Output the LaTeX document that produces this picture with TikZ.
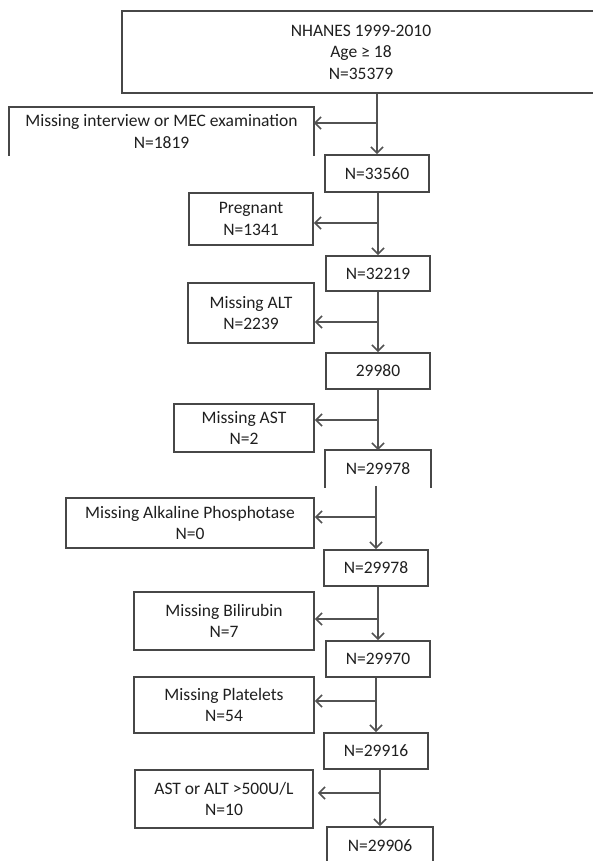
\documentclass[tikz,border=0pt]{standalone}
\usepackage{fontspec}
\setmainfont{Carlito}
\usetikzlibrary{arrows.meta}
\begin{document}
\begin{tikzpicture}[x=1pt,y=-1pt,
  box/.style={draw=black!72, line width=1.8pt, inner sep=0pt, align=center,
    font=\fontsize{17.5}{21.5}\selectfont, text=black!88},
  openbox/.style={box, draw=none},
  conn/.style={draw=black!68, line width=1.6pt},
  arr/.style={conn, -{Straight Barb[length=6pt,width=12pt]}}]
\useasboundingbox (0,0) rectangle (593,861);
\fill[white] (0,0) rectangle (593,861);

% top box (its right side runs past the page edge)
\node[box, minimum width=478pt, minimum height=82pt] (top) at (361,52)
  {NHANES 1999-2010\\Age ≥ 18\\N=35379};

% main column
\node[box, minimum width=104pt, minimum height=37pt] (m1) at (377,173.5) {N=33560};
\node[box, minimum width=104pt, minimum height=35pt] (m2) at (378,273.5) {N=32219};
\node[box, minimum width=104pt, minimum height=36pt] (m3) at (378,371) {29980};
\node[openbox, minimum width=104pt, minimum height=36pt] (m4) at (378,469) {N=29978};
\draw[black!72, line width=1.8pt] (m4.south west) -- (m4.north west) -- (m4.north east) -- (m4.south east);
\node[box, minimum width=104pt, minimum height=36pt] (m5) at (376,568) {N=29978};
\node[box, minimum width=104pt, minimum height=36pt] (m6) at (378,659) {N=29970};
\node[box, minimum width=104pt, minimum height=36pt] (m7) at (376,751) {N=29916};
\node[box, minimum width=106pt, minimum height=38pt] (m8) at (380,846) {N=29906};

% exclusion boxes
\node[openbox, minimum width=303pt, minimum height=47pt] (e1) at (161.5,131.5)
  {Missing interview or MEC examination\\N=1819};
\draw[black!72, line width=1.8pt] (e1.south west) -- (e1.north west) -- (e1.north east) -- (e1.south east);
\node[box, minimum width=124pt, minimum height=52pt] (e2) at (251,219) {Pregnant\\N=1341};
\node[box, minimum width=126pt, minimum height=60pt] (e3) at (251,313) {Missing ALT\\N=2239};
\node[box, minimum width=140pt, minimum height=48pt] (e4) at (244,428) {Missing AST\\N=2};
\node[box, minimum width=248pt, minimum height=50pt] (e5) at (190,523) {Missing Alkaline Phosphotase\\N=0};
\node[box, minimum width=180pt, minimum height=58pt] (e6) at (224,621) {Missing Bilirubin\\N=7};
\node[box, minimum width=180pt, minimum height=56pt] (e7) at (224,705) {Missing Platelets\\N=54};
\node[box, minimum width=178pt, minimum height=58pt] (e8) at (224,799) {AST or ALT >500U/L\\N=10};

% branch points on the main line
\coordinate (b1) at (m1.north |- 0,123);
\coordinate (b2) at (m2.north |- 0,223);
\coordinate (b3) at (m3.north |- 0,322);
\coordinate (b4) at (m4.north |- 0,420);
\coordinate (b5) at (m5.north |- 0,517);
\coordinate (b6) at (m6.north |- 0,619);
\coordinate (b7) at (m7.north |- 0,701);
\coordinate (b8) at (m8.north |- 0,793);

% main flow
\draw[arr] (m1.north |- top.south) -- (m1.north);
\draw[arr] (m1.south -| m2.north) -- (m2.north);
\draw[arr] (m2.south -| m3.north) -- (m3.north);
\draw[arr] (m3.south -| m4.north) -- (m4.north);
\draw[arr] ([yshift=2pt]m4.south -| m5.north) -- (m5.north);
\draw[arr] (m5.south -| m6.north) -- (m6.north);
\draw[arr] (m6.south -| m7.north) -- (m7.north);
\draw[arr] (m7.south -| m8.north) -- (m8.north);

% exclusions
\draw[arr] (b1) -- (b1 -| e1.east);
\draw[arr] (b2) -- (b2 -| e2.east);
\draw[arr] (b3) -- (b3 -| e3.east);
\draw[arr] (b4) -- (b4 -| e4.east);
\draw[arr] (b5) -- (b5 -| e5.east);
\draw[arr] (b6) -- (b6 -| e6.east);
\draw[arr] (b7) -- (b7 -| e7.east);
\draw[arr] (b8) -- ([xshift=4pt]b8 -| e8.east);
\end{tikzpicture}
\end{document}
